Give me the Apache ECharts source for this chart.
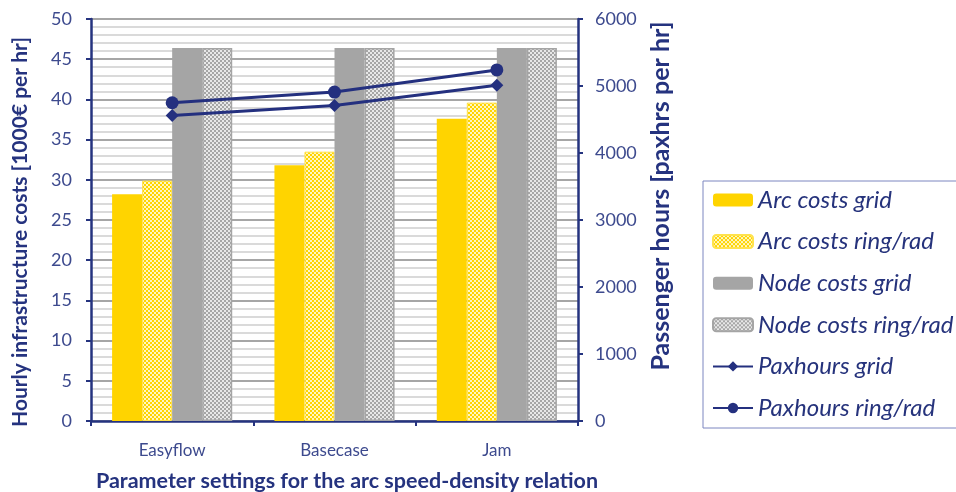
<!DOCTYPE html>
<html>
<head>
<meta charset="utf-8">
<script src="https://cdn.jsdelivr.net/npm/echarts@6/dist/echarts.min.js"></script>
<style>
  html, body { margin: 0; padding: 0; background: #fff; }
  #chart { width: 956px; height: 492px; }
</style>
</head>
<body>
<div id="chart"></div>
<script>
// Scenario categories
const categories = ['Easyflow', 'Basecase', 'Jam'];

// Infrastructure costs [1000€ per hr]
const arcCostsGrid = [28.2, 31.8, 37.6];
const arcCostsRing = [29.9, 33.5, 39.6];
const nodeCostsGrid = [46.4, 46.4, 46.4];
const nodeCostsRing = [46.4, 46.4, 46.4];

// Passenger hours [paxhrs per hr]
const paxGrid = [4560, 4710, 5010];
const paxRing = [4750, 4910, 5240];

// Axis tick ranges
const costTicks = { min: 0, max: 50, interval: 5 };
const paxTicks = { min: 0, max: 6000, interval: 1000 };

const NAVY = '#25337f';
const LABEL = '#3d4a8e';
const FONT = 'Lato';

// Small checkerboard tile used as a repeating fill
function checker(colorA, colorB, cell) {
  const c = document.createElement('canvas');
  c.width = cell * 2; c.height = cell * 2;
  const g = c.getContext('2d');
  g.fillStyle = colorB; g.fillRect(0, 0, cell * 2, cell * 2);
  g.fillStyle = colorA;
  g.fillRect(0, 0, cell, cell);
  g.fillRect(cell, cell, cell, cell);
  return { image: c, repeat: 'repeat' };
}

const yellowChecker = checker('#ffd400', '#fff7c2', 2);
const greyChecker = checker('#a6a6a6', '#e8e8e8', 2);

const chart = echarts.init(document.getElementById('chart'));

chart.setOption({
  animation: false,
  backgroundColor: '#fff',
  grid: { left: 91, right: 378, top: 19, bottom: 71, containLabel: false, outerBoundsMode: 'none' },
  legend: {
    orient: 'vertical',
    left: 703, top: 181,
    padding: [7, 14, 8, 9],
    itemWidth: 40, itemHeight: 13,
    itemGap: 17.6,
    borderColor: '#7d86c0', borderWidth: 1,
    textStyle: { fontFamily: FONT, fontStyle: 'italic', fontSize: 24, color: '#26337c', lineHeight: 24 },
    data: ['Arc costs grid', 'Arc costs ring/rad', 'Node costs grid', 'Node costs ring/rad', 'Paxhours grid', 'Paxhours ring/rad']
  },
  xAxis: {
    type: 'category',
    data: categories,
    name: 'Parameter settings for the arc speed-density relation',
    nameLocation: 'middle',
    nameGap: 49,
    nameTextStyle: { fontFamily: FONT, fontWeight: 'bold', fontSize: 21.5, color: NAVY, padding: [0, 0, 0, 25] },
    axisLine: { lineStyle: { color: NAVY, width: 2.5 } },
    axisTick: { show: true, length: 5, lineStyle: { color: NAVY, width: 2 } },
    axisLabel: { fontFamily: FONT, fontSize: 17, color: LABEL, margin: 21 },
    splitLine: { show: false }
  },
  yAxis: [
    {
      type: 'value',
      min: costTicks.min, max: costTicks.max, interval: costTicks.interval,
      name: 'Hourly infrastructure costs [1000€ per hr]',
      nameLocation: 'middle',
      nameGap: 60,
      nameTextStyle: { fontFamily: FONT, fontWeight: 'bold', fontSize: 21, color: NAVY, padding: [0, 24, 0, 0] },
      axisLine: { show: true, lineStyle: { color: NAVY, width: 2.5 } },
      axisTick: { show: true, length: 5, lineStyle: { color: NAVY, width: 2 } },
      axisLabel: { fontFamily: FONT, fontSize: 18, color: LABEL, margin: 19 },
      splitLine: { show: true, lineStyle: { color: '#a6a6a6', width: 2 } },
      minorTick: { show: false, splitNumber: 5 },
      minorSplitLine: { show: true, lineStyle: { color: '#dadada', width: 2 } }
    },
    {
      type: 'value',
      min: paxTicks.min, max: paxTicks.max, interval: paxTicks.interval,
      name: 'Passenger hours [paxhrs per hr]',
      nameLocation: 'middle',
      nameGap: 70,
      nameRotate: 90,
      nameTextStyle: { fontFamily: FONT, fontWeight: 'bold', fontSize: 25, color: NAVY, padding: [0, 0, 0, 48] },
      axisLine: { show: true, lineStyle: { color: NAVY, width: 2.5 } },
      axisTick: { show: true, length: 5, lineStyle: { color: NAVY, width: 2 } },
      axisLabel: { fontFamily: FONT, fontSize: 18, color: LABEL, margin: 17, formatter: v => String(v) },
      splitLine: { show: false }
    }
  ],
  series: [
    {
      name: 'Arc costs grid', type: 'bar', data: arcCostsGrid,
      barGap: '0%', barCategoryGap: '26%',
      itemStyle: { color: '#ffd400' }
    },
    {
      name: 'Arc costs ring/rad', type: 'bar', data: arcCostsRing,
      itemStyle: { color: yellowChecker, borderColor: '#ffe24d', borderWidth: 1 }
    },
    {
      name: 'Node costs grid', type: 'bar', data: nodeCostsGrid,
      itemStyle: { color: '#a5a5a5' }
    },
    {
      name: 'Node costs ring/rad', type: 'bar', data: nodeCostsRing,
      itemStyle: { color: greyChecker, borderColor: '#a5a5a5', borderWidth: 1.5 }
    },
    {
      name: 'Paxhours grid', type: 'line', yAxisIndex: 1, data: paxGrid,
      symbol: 'diamond', symbolSize: 13,
      lineStyle: { color: '#24307f', width: 3 },
      itemStyle: { color: '#24307f' }
    },
    {
      name: 'Paxhours ring/rad', type: 'line', yAxisIndex: 1, data: paxRing,
      symbol: 'circle', symbolSize: 13,
      lineStyle: { color: '#24307f', width: 3 },
      itemStyle: { color: '#24307f' }
    }
  ]
});
</script>
</body>
</html>
